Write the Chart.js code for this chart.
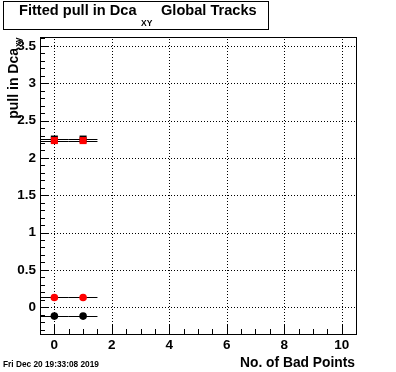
<!DOCTYPE html>
<html>
<head>
<meta charset="utf-8">
<script src="https://cdn.jsdelivr.net/npm/chart.js@4/dist/chart.umd.min.js"></script>
<style>
  html, body { margin: 0; padding: 0; background: #fff; }
  #wrap { width: 396px; height: 372px; }
</style>
</head>
<body>
<div id="wrap"><canvas id="c" width="396" height="372"></canvas></div>
<script>
// values
var xs = [0, 1];
var xErr = [0.5, 0.5];
var blackSquare = [2.252, 2.252];
var redSquare = [2.232, 2.232];
var redCircle = [0.13, 0.13];
var blackCircle = [-0.12, -0.12];
var xTicks = [0, 2, 4, 6, 8, 10];
var yTicks = [0, 0.5, 1, 1.5, 2, 2.5, 3, 3.5];

var FONT = "'Liberation Sans', Arial, sans-serif";

function pts(vals) {
    var out = [];
    for (var i = 0; i < xs.length; i++) {
        out.push({ x: xs[i], y: vals[i], ex: xErr[i] });
    }
    return out;
}

// dotted grid, horizontal error bars, inside ticks, frame and extra texts
var rootStyle = {
    id: 'rootStyle',
    beforeDatasetsDraw: function(chart) {
        var ctx = chart.ctx;
        var a = chart.chartArea;
        var xs_ = chart.scales.x, ys_ = chart.scales.y;
        ctx.save();
        ctx.fillStyle = '#000';
        // dotted grid at major ticks
        xs_.ticks.forEach(function(t) {
            var px = Math.round(xs_.getPixelForValue(t.value));
            for (var y = Math.round(a.top) + 2; y < a.bottom; y += 3) ctx.fillRect(px, y, 1, 1);
        });
        ys_.ticks.forEach(function(t) {
            var py = Math.round(ys_.getPixelForValue(t.value));
            for (var x = Math.round(a.left) + 2; x < a.right; x += 3) ctx.fillRect(x, py, 1, 1);
        });

        ctx.strokeStyle = '#000';
        ctx.lineWidth = 1;
        chart.data.datasets.forEach(function(ds) {
            ds.data.forEach(function(p) {
                var y = Math.round(ys_.getPixelForValue(p.y)) + 0.5;
                ctx.beginPath();
                ctx.moveTo(xs_.getPixelForValue(p.x - p.ex), y);
                ctx.lineTo(xs_.getPixelForValue(p.x + p.ex), y);
                ctx.stroke();
            });
        });
        ctx.restore();
    },
    afterDraw: function(chart) {
        var ctx = chart.ctx;
        var a = chart.chartArea;
        var xs_ = chart.scales.x, ys_ = chart.scales.y;
        ctx.save();
        ctx.strokeStyle = '#000';
        ctx.lineWidth = 1;
        ctx.strokeRect(Math.round(a.left) + 0.5, Math.round(a.top) + 0.5,
            Math.round(a.right - a.left), Math.round(a.bottom - a.top));

        // y ticks (inside), minor every 0.1
        ctx.beginPath();
        for (var v = -0.3; v <= 3.61; v += 0.1) {
            var vv = Math.round(v * 10) / 10;
            var py = Math.round(ys_.getPixelForValue(vv)) + 0.5;
            var major = Math.abs(vv * 2 - Math.round(vv * 2)) < 1e-6;
            ctx.moveTo(a.left, py);
            ctx.lineTo(a.left + (major ? 9 : 5), py);
        }
        // x ticks (inside), minor every 0.5
        for (var u = 0; u <= 10.01; u += 0.5) {
            var px = Math.round(xs_.getPixelForValue(u)) + 0.5;
            var majorX = Math.abs(u / 2 - Math.round(u / 2)) < 1e-6;
            ctx.moveTo(px, a.bottom);
            ctx.lineTo(px, a.bottom - (majorX ? 9 : 5));
        }
        ctx.stroke();

        // title box
        ctx.strokeRect(3.5, 1.5, 265, 28);
        ctx.fillStyle = '#000';
        ctx.textBaseline = 'alphabetic';
        ctx.textAlign = 'left';
        ctx.font = 'bold 14.6px ' + FONT;
        ctx.fillText('Fitted pull in Dca', 19, 15);
        ctx.font = 'bold 8.5px ' + FONT;
        ctx.fillText('XY', 141, 26);
        ctx.font = 'bold 14.6px ' + FONT;
        ctx.fillText('Global Tracks', 161, 15);

        // x axis title
        ctx.textAlign = 'right';
        ctx.font = 'bold 13.8px ' + FONT;
        ctx.fillText('No. of Bad Points', 355, 367);

        // y axis title
        ctx.save();
        ctx.translate(18, 48);
        ctx.rotate(-Math.PI / 2);
        ctx.textAlign = 'right';
        ctx.font = 'bold 14px ' + FONT;
        ctx.fillText('pull in Dca', 0, 0);
        ctx.textAlign = 'left';
        ctx.font = 'bold 8.5px ' + FONT;
        ctx.fillText('xy', 1, 3);
        ctx.restore();

        // date stamp
        ctx.textAlign = 'left';
        ctx.font = 'bold 8.3px ' + FONT;
        ctx.fillText('Fri Dec 20 19:33:08 2019', 3, 367);
        ctx.restore();
    }
};

// first dataset is drawn on top
new Chart(document.getElementById('c'), {
    type: 'scatter',
    data: {
        datasets: [
            { data: pts(redSquare), pointStyle: 'rect', pointRadius: 5, backgroundColor: '#ff0000', borderWidth: 0 },
            { data: pts(blackSquare), pointStyle: 'rect', pointRadius: 5, backgroundColor: '#000', borderWidth: 0 },
            { data: pts(redCircle), pointStyle: 'circle', pointRadius: 3.8, backgroundColor: '#ff0000', borderWidth: 0 },
            { data: pts(blackCircle), pointStyle: 'circle', pointRadius: 3.8, backgroundColor: '#000', borderWidth: 0 }
        ]
    },
    options: {
        responsive: false,
        animation: false,
        events: [],
        layout: { padding: { left: 0, right: 40, top: 37, bottom: 0 } },
        plugins: { legend: { display: false }, tooltip: { enabled: false } },
        scales: {
            x: {
                type: 'linear',
                min: -0.5,
                max: 10.5,
                afterBuildTicks: function(s) { s.ticks = xTicks.map(function(v) { return { value: v }; }); },
                afterFit: function(s) { s.height = 38; },
                grid: { display: false, drawTicks: false },
                border: { display: false },
                ticks: {
                    padding: 3,
                    color: '#000',
                    font: { family: FONT, size: 13.5, weight: 'bold' },
                    callback: function(v) { return String(v); }
                }
            },
            y: {
                type: 'linear',
                min: -0.36,
                max: 3.62,
                afterBuildTicks: function(s) { s.ticks = yTicks.map(function(v) { return { value: v }; }); },
                afterFit: function(s) { s.width = 40; },
                grid: { display: false, drawTicks: false },
                border: { display: false },
                ticks: {
                    padding: 4,
                    color: '#000',
                    font: { family: FONT, size: 13.5, weight: 'bold' },
                    callback: function(v) { return String(v); }
                }
            }
        }
    },
    plugins: [rootStyle]
});
</script>
</body>
</html>
